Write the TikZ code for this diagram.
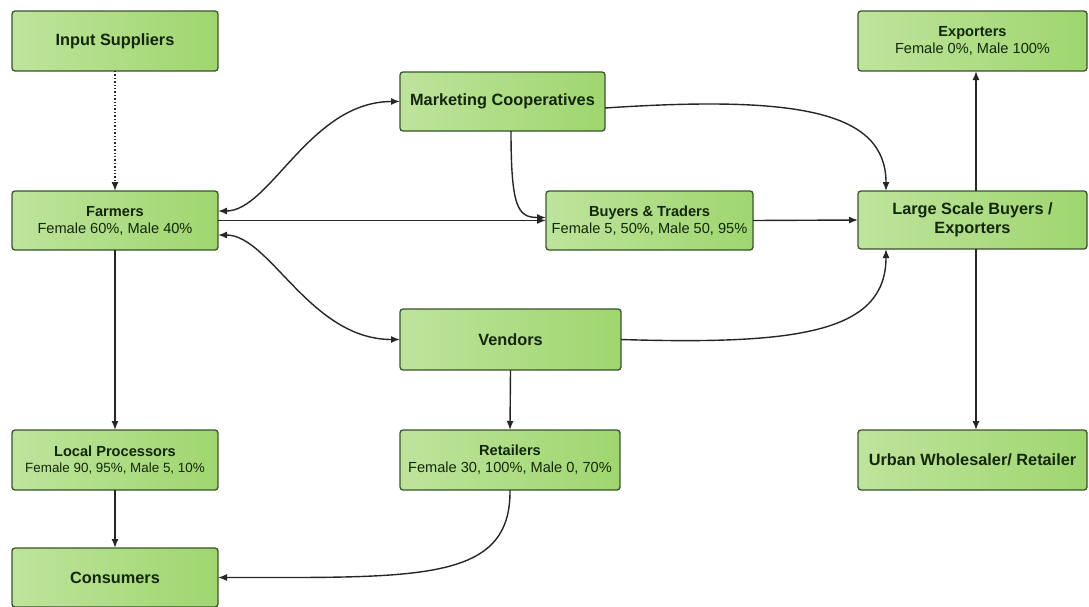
\documentclass[tikz,border=0pt]{standalone}
\usepackage{fontspec}
\setmainfont{Liberation Sans}
\usetikzlibrary{arrows.meta}
\definecolor{boxL}{HTML}{BEE49C}
\definecolor{boxR}{HTML}{9FD66F}
\definecolor{boxB}{HTML}{3A532C}
\definecolor{txt}{HTML}{142609}
\definecolor{ln}{HTML}{262626}
\begin{document}
\begin{tikzpicture}[x=1pt,y=-1pt,
 box/.style={draw=boxB, line width=1.3pt, rounded corners=3pt, left color=boxL, right color=boxR,
   inner sep=0pt, outer sep=0pt, align=center, text=txt},
 big/.style={font=\fontsize{16.3}{18.5}\selectfont\bfseries},
 small/.style={font=\fontsize{14.6}{17}\selectfont},
 tiny/.style={font=\fontsize{13.4}{16.5}\selectfont},
 arr/.style={draw=ln, line width=1.4pt, -{Latex[length=9pt,width=7pt]}},
 barr/.style={draw=ln, line width=1.4pt, {Latex[length=9pt,width=7pt]}-{Latex[length=9pt,width=7pt]}},
]
\useasboundingbox (0,0) rectangle (1089,606);

\node[box, big, minimum width=206pt, minimum height=60pt] (inp) at (115,41) {Input Suppliers};
\node[box, small, minimum width=206pt, minimum height=59pt] (far) at (115,220.5) {\textbf{Farmers}\\Female 60\%, Male 40\%};
\node[box, big, minimum width=205pt, minimum height=59pt] (coop) at (502.5,101.5) {Marketing Cooperatives};
\node[box, small, minimum width=207pt, minimum height=59pt] (buy) at (649.5,220.5) {\textbf{Buyers \& Traders}\\Female 5, 50\%, Male 50, 95\%};
\node[box, small, minimum width=229pt, minimum height=60pt] (exp) at (972.5,41) {\textbf{Exporters}\\Female 0\%, Male 100\%};
\node[box, big, minimum width=229pt, minimum height=58pt] (large) at (972.5,220) {Large Scale Buyers /\\Exporters};
\node[box, big, minimum width=221pt, minimum height=61pt] (vend) at (510.5,339.5) {Vendors};
\node[box, tiny, minimum width=206pt, minimum height=60pt] (loc) at (115,460) {\textbf{\fontsize{14.6}{17}\selectfont Local Processors}\\Female 90, 95\%, Male 5, 10\%};
\node[box, small, minimum width=220pt, minimum height=60pt] (ret) at (510,460) {\textbf{Retailers}\\Female 30, 100\%, Male 0, 70\%};
\node[box, big, minimum width=229pt, minimum height=60pt] (urb) at (972.5,460) {Urban Wholesaler/ Retailer};
\node[box, big, minimum width=206pt, minimum height=59pt] (cons) at (115,577.5) {Consumers};

\draw[arr, dotted] (inp.south) -- (far.north);
\draw[barr] ([yshift=9.5pt]far.east) .. controls (270,211) and (310,101.5) .. (coop.west);
\draw[barr] ([yshift=-14.5pt]far.east) .. controls (270,235) and (310,339.5) .. (vend.west);
\draw[arr] (far.east) -- (buy.west);
\draw[arr] ([xshift=8.5pt]coop.south) .. controls (511,208) and (518,217.5) .. ([yshift=3pt]buy.west);
\draw[arr] ([yshift=-6.5pt]coop.east) .. controls (800,95) and (886,112) .. ([xshift=-86.5pt]large.north);
\draw[arr] (buy.east) -- (large.west);
\draw[arr] (vend.east) .. controls (800,345) and (886,332) .. ([xshift=-86.5pt]large.south);
\draw[arr] ([xshift=3.5pt]large.north) -- ([xshift=3.5pt]exp.south);
\draw[arr] ([xshift=3.5pt]large.south) -- ([xshift=3.5pt]urb.north);
\draw[arr] (far.south) -- (loc.north);
\draw[arr] (vend.south) -- (ret.north);
\draw[arr] (loc.south) -- (cons.north);
\draw[arr] (ret.south) .. controls (511,582) and (420,577.5) .. (cons.east);
\end{tikzpicture}
\end{document}
